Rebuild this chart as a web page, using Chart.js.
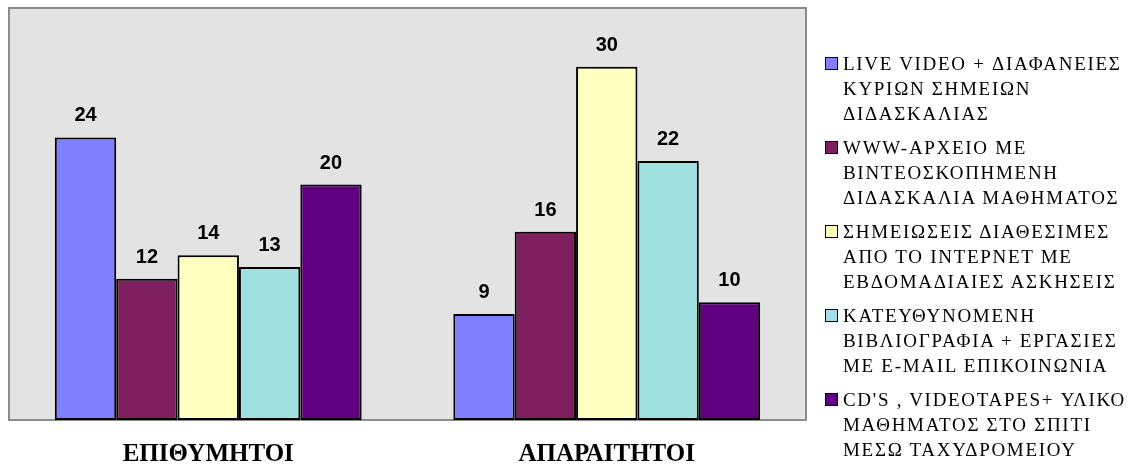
<!DOCTYPE html>
<html>
<head>
<meta charset="utf-8">
<script src="https://cdn.jsdelivr.net/npm/chart.js@4.4.1/dist/chart.umd.min.js"></script>
<style>
  html, body { margin: 0; padding: 0; background: #fff; }
  #wrap { position: relative; width: 1144px; height: 466px; }
  #legend { position: absolute; left: 825px; top: 51px; font-family: "Liberation Serif", serif; font-size: 19px; letter-spacing: 1.7px; color: #000; white-space: nowrap; }
  .item { position: relative; padding-left: 18px; line-height: 25px; margin-bottom: 9px; }
  .box { position: absolute; left: 0; top: 6px; width: 11px; height: 11px; border: 1px solid #000; }
</style>
</head>
<body>
<div id="wrap">
  <canvas id="barChart"></canvas>
  <div id="legend"></div>
</div>
<script>
// dữ liệu biểu đồ
var categories = ['ΕΠΙΘΥΜΗΤΟΙ', 'ΑΠΑΡΑΙΤΗΤΟΙ'];
var seriesNames = [
    ['LIVE VIDEO + ΔΙΑΦΑΝΕΙΕΣ', 'ΚΥΡΙΩΝ ΣΗΜΕΙΩΝ', 'ΔΙΔΑΣΚΑΛΙΑΣ'],
    ['WWW-ΑΡΧΕΙΟ ΜΕ', 'ΒΙΝΤΕΟΣΚΟΠΗΜΕΝΗ', 'ΔΙΔΑΣΚΑΛΙΑ ΜΑΘΗΜΑΤΟΣ'],
    ['ΣΗΜΕΙΩΣΕΙΣ ΔΙΑΘΕΣΙΜΕΣ', 'ΑΠΟ ΤΟ ΙΝΤΕΡΝΕΤ ΜΕ', 'ΕΒΔΟΜΑΔΙΑΙΕΣ ΑΣΚΗΣΕΙΣ'],
    ['ΚΑΤΕΥΘΥΝΟΜΕΝΗ', 'ΒΙΒΛΙΟΓΡΑΦΙΑ + ΕΡΓΑΣΙΕΣ', 'ΜΕ E-MAIL ΕΠΙΚΟΙΝΩΝΙΑ'],
    ["CD'S , VIDEOTAPES+ ΥΛΙΚΟ", 'ΜΑΘΗΜΑΤΟΣ ΣΤΟ ΣΠΙΤΙ', 'ΜΕΣΩ ΤΑΧΥΔΡΟΜΕΙΟΥ']
];
var liveVideo = [24, 9];
var wwwArchive = [12, 16];
var notesInternet = [14, 30];
var bibliography = [13, 22];
var cdTapes = [20, 10];
var seriesColors = ['#8080ff', '#7f1f5f', '#ffffc0', '#a0e0e0', '#600080'];

var seriesValues = [liveVideo, wwwArchive, notesInternet, bibliography, cdTapes];

// nền xám và khung của vùng vẽ
var plotFrame = {
    id: 'plotFrame',
    beforeDraw: function(chart) {
        var a = chart.chartArea, c = chart.ctx;
        c.save();
        c.fillStyle = '#e3e3e3';
        c.fillRect(a.left, a.top, a.right - a.left, a.bottom - a.top);
        c.strokeStyle = '#8c8c8c';
        c.lineWidth = 2;
        c.strokeRect(a.left, a.top, a.right - a.left, a.bottom - a.top);
        c.restore();
    }
};

// số trên đầu cột
var valueLabels = {
    id: 'valueLabels',
    afterDatasetsDraw: function(chart) {
        var c = chart.ctx;
        c.save();
        c.font = 'bold 20px "Liberation Sans", Arial, sans-serif';
        c.fillStyle = '#000';
        c.textAlign = 'center';
        c.textBaseline = 'alphabetic';
        chart.data.datasets.forEach(function(ds, i) {
            chart.getDatasetMeta(i).data.forEach(function(bar, j) {
                c.fillText(ds.data[j], bar.x, bar.y - 16);
            });
        });
        c.restore();
    }
};

var ctx = document.getElementById('barChart').getContext('2d');
var myChart = new Chart(ctx, {
    type: 'bar',
    data: {
        labels: categories,
        datasets: seriesValues.map(function(vals, i) {
            return {
                label: seriesNames[i].join(' '),
                data: vals,
                backgroundColor: seriesColors[i],
                borderColor: '#000',
                borderWidth: 2,
                borderSkipped: false,
                categoryPercentage: 0.77,
                barPercentage: 1.0
            };
        })
    },
    options: {
        responsive: true,
        maintainAspectRatio: false,
        animation: false,
        layout: { padding: { left: 9, top: 8, right: 338, bottom: 0 } },
        plugins: { legend: { display: false }, tooltip: { enabled: false } },
        scales: {
            x: {
                grid: { display: false, drawTicks: false },
                border: { display: false },
                afterFit: function(scale) { scale.height = 46; },
                ticks: {
                    color: '#000',
                    padding: 20,
                    font: { family: '"Liberation Serif", serif', size: 25, weight: 'bold' }
                }
            },
            y: { display: false, min: 0, max: 35 }
        }
    },
    plugins: [plotFrame, valueLabels]
});

// chú thích bên phải
var legend = document.getElementById('legend');
seriesNames.forEach(function(lines, i) {
    var item = document.createElement('div');
    item.className = 'item';
    var box = document.createElement('span');
    box.className = 'box';
    box.style.background = seriesColors[i];
    item.appendChild(box);
    lines.forEach(function(t) {
        var d = document.createElement('div');
        d.textContent = t;
        item.appendChild(d);
    });
    legend.appendChild(item);
});
</script>
</body>
</html>
